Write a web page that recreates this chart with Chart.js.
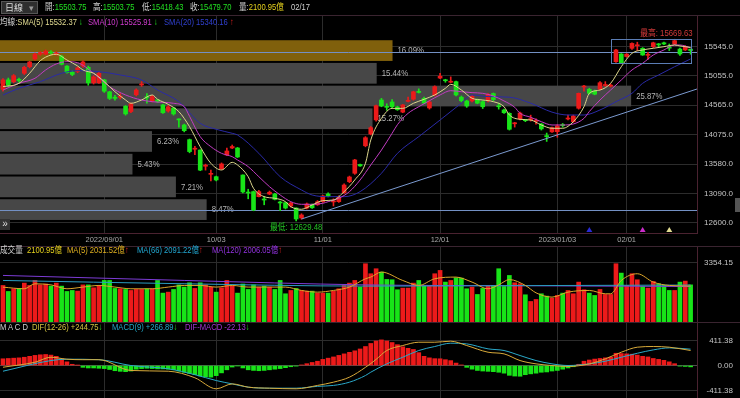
<!DOCTYPE html>
<html>
<head>
<meta charset="utf-8">
<script src="https://cdn.jsdelivr.net/npm/chart.js@4.4.1/dist/chart.umd.min.js"></script>
<style>
    html, body { margin: 0; padding: 0; background: #000; }
    #wrap { position: relative; width: 740px; height: 398px; overflow: hidden; background: #000;
            font-family: "Liberation Sans", "Noto Sans CJK TC", sans-serif; }
    canvas { position: absolute; left: 0; }
    .t { position: absolute; white-space: nowrap; font-size: 9.5px; line-height: 12px;
         transform: scaleX(0.8); transform-origin: 0 50%; color: #d0d0d0; }
    .sep { position: absolute; left: 0; width: 740px; height: 1px; background: #3a2430; }
    .g { color: #22e022; } .r { color: #e82020; } .y { color: #e6d21e; }
    #dd { position: absolute; left: 1px; top: 1px; width: 35px; height: 11px; background: #2e2e2e;
          border: 1px solid #555; color: #ddd; font: 9px "Noto Sans CJK TC", sans-serif; line-height: 11px; }
    #dd span { position: absolute; }
    #more { position: absolute; left: 0; top: 219px; width: 10px; height: 11px; background: #333;
            color: #ddd; font: 10px "Liberation Sans", sans-serif; line-height: 10px; text-align: center; }
    #scroll { position: absolute; left: 735px; top: 198px; width: 5px; height: 14px; background: #555; }
</style>
</head>
<body>
<div id="wrap">
    <canvas id="priceChart" width="740" height="231" style="top:15px"></canvas>
    <canvas id="volumeChart" width="740" height="76" style="top:246px"></canvas>
    <canvas id="macdChart" width="740" height="76" style="top:322px"></canvas>

    <div class="sep" style="top:15px"></div>
    <div class="sep" style="top:246px"></div>
    <div class="sep" style="top:322px"></div>

    <div id="dd"><span style="left:3px">日線</span><span style="left:27px;color:#999">▾</span></div>
    <div class="t" style="left:45px;top:1px">開:<span class="g">15503.75</span></div>
    <div class="t" style="left:93px;top:1px">高:<span class="g">15503.75</span></div>
    <div class="t" style="left:142px;top:1px">低:<span class="g">15418.43</span></div>
    <div class="t" style="left:190px;top:1px">收:<span class="g">15479.70</span></div>
    <div class="t" style="left:239px;top:1px">量:<span class="y">2100.95億</span></div>
    <div class="t" style="left:291px;top:1px">02/17</div>

    <div class="t" style="left:0;top:16px">均線:<span style="color:#e2dc92">SMA(5) 15532.37</span> <span class="g">↓</span></div>
    <div class="t" style="left:88px;top:16px"><span style="color:#d23cd2">SMA(10) 15525.91</span> <span class="g">↓</span></div>
    <div class="t" style="left:164px;top:16px"><span style="color:#3040d0">SMA(20) 15340.16</span> <span class="r">↑</span></div>

    <div class="t" style="left:0;top:244px">成交量</div>
    <div class="t" style="left:27px;top:244px"><span class="y">2100.95億</span></div>
    <div class="t" style="left:67px;top:244px"><span style="color:#e0b020">MA(5) 2031.52億</span><span class="r">↑</span></div>
    <div class="t" style="left:137px;top:244px"><span style="color:#22a8d2">MA(66) 2091.22億</span><span class="r">↑</span></div>
    <div class="t" style="left:212px;top:244px"><span style="color:#9432e2">MA(120) 2006.05億</span><span class="r">↑</span></div>

    <div class="t" style="left:0;top:321px">M A C D</div>
    <div class="t" style="left:32px;top:321px"><span style="color:#d4c442">DIF(12-26) +244.75</span><span class="g">↓</span></div>
    <div class="t" style="left:112px;top:321px"><span style="color:#22a8c8">MACD(9) +266.89</span><span class="g">↓</span></div>
    <div class="t" style="left:185px;top:321px"><span style="color:#a434d4">DIF-MACD -22.13</span><span class="g">↓</span></div>

    <div id="more">»</div>
    <div id="scroll"></div>
</div>

<script>
// ═══ 資料 (2022/08/05 ~ 2023/02/17 日線) ═══

// [開, 高, 低, 收]
const candles = [
    [14830,15010,14800,14990],[14990,15020,14880,14900],[14960,15080,14940,15060],[15000,15020,14950,14980],[15100,15220,15080,15200],
    [15210,15300,15190,15290],[15340,15440,15320,15420],[15420,15460,15400,15445],[15420,15490,15410,15470],[15450,15480,15420,15440],
    [15420,15460,15400,15440],[15380,15400,15240,15250],[15220,15230,15100,15110],[15120,15140,15060,15080],[15130,15210,15110,15190],
    [15220,15310,15200,15290],[15200,15220,14900,14940],[14940,15060,14920,15040],[14940,15120,14930,15100],[14990,15000,14780,14800],
    [14790,14800,14660,14680],[14700,14730,14650,14680],[14700,14760,14670,14715],[14550,14560,14400,14420],[14460,14600,14440,14590],
    [14740,14840,14720,14820],[14905,14960,14880,14920],[14705,14760,14600,14690],[14640,14730,14620,14710],[14655,14660,14610,14630],
    [14570,14580,14430,14440],[14470,14560,14450,14540],[14520,14530,14400,14420],[14335,14340,14200,14320],[14235,14250,14120,14140],
    [13990,14000,13770,13790],[13830,13880,13740,13845],[13816,13820,13470,13480],[13545,13580,13480,13560],[13410,13480,13300,13425],
    [13370,13380,13300,13315],[13500,13600,13490,13583],[13733,13850,13720,13800],[13850,13900,13840,13875],[13850,13860,13690,13700],
    [13398,13400,13100,13114],[13105,13160,13000,13096],[13120,13130,12800,12813],[13036,13140,13030,13120],[12990,13040,12900,12980],
    [13080,13130,13070,13110],[13080,13090,12980,12990],[12940,12960,12800,12930],[12935,12940,12830,12846],[12880,12940,12860,12930],
    [12846,12850,12629.48,12663],[12680,12750,12660,12730],[12846,12930,12830,12913],[12900,12910,12840,12850],[12900,12970,12890,12950],
    [12952,13060,12940,13048],[13080,13100,13030,13048],[12948,13000,12880,12955],[12952,13050,12940,13030],[13102,13250,13090,13231],
    [13287,13380,13270,13365],[13427,13660,13410,13650],[13575,13580,13540,13550],[13888,14040,13870,14022],[14085,14210,14070,14190],
    [14320,14570,14300,14558],[14653,14680,14540,14553],[14545,14590,14480,14530],[14620,14660,14520,14540],[14540,14550,14480,14490],
    [14450,14580,14440,14570],[14630,14700,14620,14645],[14667,14800,14650,14790],[14790,14840,14770,14780],[14680,14700,14590,14600],
    [14520,14640,14500,14620],[14737,14890,14720,14876],[15020,15100,15010,15050],[14990,15000,14950,14975],[14950,15040,14940,14960],
    [14960,14970,14720,14737],[14700,14720,14620,14640],[14637,14650,14530,14553],[14637,14730,14620,14715],[14660,14670,14590,14600],
    [14625,14640,14510,14540],[14640,14760,14620,14748],[14760,14770,14640,14660],[14545,14600,14500,14540],[14486,14500,14430,14440],
    [14430,14440,14150,14163],[14255,14280,14200,14265],[14335,14450,14320,14435],[14320,14330,14290,14307],[14325,14400,14300,14335],
    [14295,14340,14250,14305],[14252,14260,14150,14170],[14050,14100,13960,14040],[14120,14200,14110,14190],[14123,14240,14030,14218],
    [14230,14260,14200,14225],[14335,14400,14320,14345],[14290,14400,14280,14385],[14515,14770,14500,14765],[14870,14900,14800,14880],
    [14832,14850,14750,14765],[14800,14820,14740,14750],[14832,14960,14820,14942],[14895,14960,14880,14905],[14885,14920,14870,14895],
    [15294,15500,15280,15490],[15423,15430,15270,15277],[15380,15430,15370,15420],[15518,15610,15500,15600],[15560,15620,15480,15570],
    [15518,15530,15400,15406],[15400,15450,15330,15410],[15545,15620,15530,15610],[15585,15600,15540,15575],[15610,15620,15580,15590],
    [15530,15590,15480,15520],[15590,15669.63,15580,15645],[15505,15520,15400,15423],[15490,15560,15480,15550],[15503.75,15503.75,15418.43,15479.70]
];

// 成交量 (億)
const volumes = [
    2068,1728,1880,1900,2200,2068,2351,2100,2150,2030,
    2200,2030,1728,1785,1747,2100,2100,1936,2068,2351,
    2351,1900,1880,1842,1785,1842,1842,1880,1880,2351,
    1634,1690,1842,2100,1975,2219,1900,2219,2100,1975,
    1690,1936,2351,2030,1634,2150,1842,2100,1975,2030,
    1975,1842,2351,1597,1785,1900,1785,1747,1747,1634,
    1634,1634,1747,1880,2068,2200,2351,1975,3297,2731,
    3014,2825,2408,2390,1824,1918,1918,2200,2351,2068,
    2068,2731,2918,2257,2351,2502,2483,1880,1975,1558,
    1900,2068,2068,3014,2012,2634,2219,2163,1540,1162,
    1275,1597,1464,1351,1502,1634,1785,1597,2257,1824,
    1634,1502,1842,1558,1558,3297,2767,2068,2731,2390,
    2012,1918,2295,2163,2068,1785,1785,2257,2314,2100.95
];

// DIF-MACD 柱狀
const macdHist = [
    110,115,120,125,135,150,165,175,180,170,
    150,110,60,20,5,-30,-40,-40,-45,-50,
    -65,-85,-95,-100,-90,-60,-50,-45,-50,-55,
    -55,-60,-70,-90,-110,-130,-150,-170,-185,-190,
    -165,-120,-70,-25,-5,-40,-70,-80,-85,-80,
    -70,-60,-50,-35,-20,-10,10,30,50,70,
    100,120,140,165,190,215,240,270,310,360,
    400,418,400,375,340,305,280,262,210,150,
    125,112,110,95,80,40,10,-30,-60,-80,
    -90,-95,-100,-110,-125,-160,-172,-175,-150,-136,
    -125,-110,-105,-90,-80,-60,-40,-20,20,70,
    90,105,115,125,135,200,195,190,185,170,
    150,140,115,100,85,60,30,-10,-15,-22.13
];

// 均線 [K棒序號, 值]
const sma5 = [[0,14876],[3,14932],[5,15100],[7,15311],[9,15406],[10,15418],[12,15322],[14,15222],[15,15155],[17,15100],
    [19,14960],[21,14792],[23,14653],[24,14598],[26,14653],[28,14737],[29,14665],[31,14580],[33,14458],[35,14207],
    [37,13872],[39,13594],[41,13482],[43,13610],[44,13566],[46,13370],[47,13176],[49,13036],[51,13009],[53,12952],
    [54,12868],[56,12825],[58,12897],[60,12969],[62,12980],[64,13120],[66,13316],[68,13594],[69,13984],[71,14346],
    [73,14513],[75,14513],[77,14598],[79,14665],[81,14737],[83,14849],[84,14915],[86,14820],[88,14682],[90,14653],
    [92,14625],[94,14541],[95,14402],[97,14330],[99,14318],[101,14235],[103,14180],[105,14180],[107,14290],[109,14541],
    [110,14765],[112,14820],[114,14932],[116,15210],[118,15434],[120,15490],[122,15518],[124,15545],[126,15573],[127,15557],
    [129,15532.37]];
const sma10 = [[0,14820],[3,14932],[6,15016],[8,15155],[10,15256],[12,15294],[14,15277],[17,15100],[20,14876],[23,14737],
    [26,14653],[28,14625],[32,14598],[34,14541],[35,14380],[37,14040],[39,13872],[41,13761],[43,13705],[44,13650],
    [46,13538],[48,13370],[50,13203],[52,13064],[54,12952],[56,12908],[58,12908],[60,12925],[61,12952],[63,13009],
    [65,13120],[67,13315],[69,13566],[71,13816],[73,14096],[74,14240],[76,14430],[78,14541],[80,14641],[82,14737],
    [84,14809],[86,14792],[88,14776],[90,14765],[92,14720],[94,14637],[96,14531],[97,14430],[99,14364],[101,14290],
    [103,14235],[105,14235],[107,14252],[109,14346],[110,14460],[112,14653],[114,14820],[116,14988],[118,15155],[120,15267],
    [122,15406],[124,15490],[126,15573],[127,15573],[129,15525.91]];
const sma20 = [[0,14737],[3,14849],[7,14960],[11,15100],[14,15144],[18,15127],[22,15072],[26,14988],[29,14820],[33,14625],
    [37,14263],[40,14163],[43,14096],[44,14068],[48,13761],[52,13370],[56,13148],[58,13064],[61,13036],[64,13036],
    [67,13120],[71,13427],[74,13761],[78,14040],[82,14318],[86,14600],[88,14737],[91,14710],[95,14700],[99,14600],
    [103,14450],[106,14402],[109,14402],[112,14486],[115,14625],[118,14765],[120,14932],[123,15072],[126,15210],[129,15340.16]];

const volMa5 = [[0,1972],[4,1880],[6,2160],[9,2100],[12,1880],[15,1975],[18,2068],[21,1975],[24,1880],[28,1880],
    [31,1975],[34,2068],[37,2068],[40,1975],[43,2068],[46,1975],[49,1975],[53,1975],[56,1785],[59,1690],
    [62,1785],[65,1975],[68,2446],[69,2540],[71,2825],[75,2350],[78,2068],[81,2446],[85,2540],[88,2257],
    [91,1880],[93,2100],[95,2400],[98,2068],[100,1650],[103,1408],[106,1690],[110,1785],[113,1597],[114,1597],
    [116,2351],[119,2730],[122,2257],[125,2068],[129,2031.52]];
const volMa66  = [[0,2351],[34,2164],[68,2030],[100,2060],[129,2091.22]];
const volMa120 = [[0,2635],[34,2351],[68,2100],[100,2050],[129,2006.05]];

const difLine = [[0,-28],[6,54],[9,135],[12,103],[15,95],[18,95],[24,-81],[31,-93],[36,-200],[40,-380],
    [43,-300],[46,-353],[50,-370],[55,-380],[59,-325],[62,-272],[65,-190],[68,-30],[70,100],[72,245],
    [75,326],[78,380],[81,380],[84,397],[87,326],[91,217],[94,190],[97,81],[100,27],[103,0],
    [106,-16],[110,27],[113,109],[116,217],[119,299],[122,310],[125,299],[129,244.75]];
const signalLine = [[0,-93],[9,81],[12,103],[18,95],[24,0],[31,-54],[36,-150],[40,-245],[43,-300],[46,-353],
    [50,-370],[55,-370],[59,-340],[62,-325],[65,-272],[68,-163],[69,-109],[72,27],[75,135],[78,245],
    [81,310],[84,364],[87,353],[91,272],[94,245],[97,163],[100,81],[103,27],[106,0],[110,27],
    [113,70],[116,135],[119,200],[122,255],[125,288],[129,266.89]];

// 座標軸
const tickIdx  = [19, 40, 60, 82, 104, 117];
const tickText = ['2022/09/01', '10/03', '11/01', '12/01', '2023/01/03', '02/01'];
const priceTicks = [12600, 13090, 13580, 14075, 14565, 15055, 15545];
const volTicks   = [3354.15];
const macdTicks  = [-411.38, 0, 411.38];

// 分價量 (由下往上, %)
const profilePct = [8.47, 7.21, 5.43, 6.23, 15.27, 25.87, 15.44, 16.09];
const hLines     = [12810, 15450];
const trendLine  = [[56, 12662], [130.2, 14837]];
const boxRange   = [114, 129];
const crossIdx   = [110, 120, 125];

// ═══ 樣式 ═══
const RED = '#ec1a1a', GREEN = '#18e418';
const FONT = '"Liberation Sans", "Noto Sans CJK TC", sans-serif';
const GRID = '#2c2c2c', EDGE = '#4a2230';
const X_MIN = -0.56, X_MAX = 130.2;

const candleColors = candles.map(c => c[3] >= c[0] ? RED : GREEN);
const pts = arr => arr.map(([x, y]) => ({ x, y }));

function lineSet(data, color, order) {
    return { type: 'line', data: pts(data), borderColor: color, borderWidth: 1, pointRadius: 0,
             cubicInterpolationMode: 'monotone', order: order ?? 0 };
}

function xAxis(showLabels) {
    return {
        type: 'linear', min: X_MIN, max: X_MAX, offset: false,
        afterBuildTicks: s => { s.ticks = tickIdx.map(v => ({ value: v })); },
        afterFit: s => { s.height = showLabels ? 13 : 0; s.paddingLeft = 0; s.paddingRight = 0; },
        grid: { color: GRID, drawTicks: false, offset: false },
        border: { display: showLabels, color: EDGE },
        ticks: {
            display: showLabels, autoSkip: false, maxRotation: 0, padding: 2, color: '#a8a8a8',
            font: { size: 7.5, family: FONT },
            callback: v => tickText[tickIdx.indexOf(v)] ?? ''
        }
    };
}

function yAxis(min, max, ticks, digits) {
    return {
        position: 'right', min, max,
        afterBuildTicks: s => { s.ticks = ticks.map(v => ({ value: v })); },
        afterFit: s => { s.width = 36; s.paddingTop = 0; s.paddingBottom = 0; },
        grid: { color: c => (c.tick && c.tick.value === 0) ? '#4e4e4e' : GRID, drawTicks: false },
        border: { color: EDGE },
        ticks: { crossAlign: 'far', padding: 4, color: '#c4c4c4', font: { size: 8, family: FONT },
                 callback: v => Number(v).toFixed(digits) }
    };
}

const baseOptions = {
    responsive: false, animation: false, events: [],
    layout: { padding: { left: 0, top: 0, bottom: 0, right: 7 } },
    plugins: { legend: { display: false }, tooltip: { enabled: false } }
};

function drawText(ctx, s, px, py, color, align) {
    ctx.save();
    ctx.translate(px, py);
    ctx.scale(0.82, 1);
    ctx.font = '9.5px ' + FONT;
    ctx.fillStyle = color;
    ctx.textAlign = align;
    ctx.textBaseline = 'middle';
    ctx.fillText(s, 0, 0);
    ctx.restore();
}

// 分價量、水平線、區間框、最高最低
const priceExtras = {
    id: 'priceExtras',
    beforeDatasetsDraw(chart) {
        const { ctx, chartArea: a, scales: { x2, y } } = chart;
        const lo = Math.min(...candles.map(c => c[2]));
        const hi = Math.max(...candles.map(c => c[1]));
        const step = (hi - lo) / profilePct.length;
        const last = candles[candles.length - 1][3];

        ctx.save();
        ctx.beginPath();
        ctx.rect(a.left, a.top, a.right - a.left, a.bottom - a.top);
        ctx.clip();
        profilePct.forEach((p, k) => {
            const p0 = lo + step * k, p1 = p0 + step;
            const top = y.getPixelForValue(p1), bot = y.getPixelForValue(p0);
            const right = x2.getPixelForValue(p);
            ctx.fillStyle = (last >= p0 && last <= p1) ? '#80600c' : '#474747';
            ctx.fillRect(a.left, top + 1, right - a.left, bot - top - 2);
            drawText(ctx, p.toFixed(2) + '%', right + 5, (top + bot) / 2, '#b4b4b4', 'left');
        });
        ctx.strokeStyle = '#7390c4';
        ctx.lineWidth = 1;
        hLines.forEach(v => {
            const py = Math.round(y.getPixelForValue(v)) + 0.5;
            ctx.beginPath(); ctx.moveTo(a.left, py); ctx.lineTo(a.right, py); ctx.stroke();
        });
        ctx.restore();
    },
    afterDatasetsDraw(chart) {
        const { ctx, chartArea: a, scales: { x, y } } = chart;
        ctx.save();

        const seg = candles.slice(boxRange[0] + 1, boxRange[1] + 1);
        const bHi = Math.max(...seg.map(c => c[1])), bLo = Math.min(...seg.map(c => c[2]));
        const bx0 = Math.round(x.getPixelForValue(boxRange[0])) + 0.5;
        const bx1 = Math.round(x.getPixelForValue(boxRange[1])) + 0.5;
        const by0 = Math.round(y.getPixelForValue(bHi)) + 0.5;
        const by1 = Math.round(y.getPixelForValue(bLo)) + 0.5;
        ctx.strokeStyle = '#5b7db5';
        ctx.lineWidth = 1;
        ctx.strokeRect(bx0, by0, bx1 - bx0, by1 - by0);

        let hiI = 0, loI = 0;
        candles.forEach((c, i) => {
            if (c[1] > candles[hiI][1]) hiI = i;
            if (c[2] < candles[loI][2]) loI = i;
        });
        drawText(ctx, '最高: ' + candles[hiI][1].toFixed(2), x.getPixelForValue(boxRange[1]) + 2,
                 y.getPixelForValue(candles[hiI][1]) - 6, '#d23a3a', 'right');
        drawText(ctx, '最低: ' + candles[loI][2].toFixed(2), x.getPixelForValue(loI),
                 y.getPixelForValue(candles[loI][2]) + 6, '#22c022', 'center');

        const triColors = ['#2a2ad6', '#cc2ccc', '#e2dc92'];
        crossIdx.forEach((i, k) => {
            const px = x.getPixelForValue(i), py = a.bottom - 3;
            ctx.fillStyle = triColors[k];
            ctx.beginPath();
            ctx.moveTo(px, py - 3); ctx.lineTo(px + 3, py + 2); ctx.lineTo(px - 3, py + 2);
            ctx.closePath(); ctx.fill();
        });
        ctx.restore();
    }
};

// ═══ K線圖 ═══
new Chart(document.getElementById('priceChart'), {
    type: 'bar',
    data: {
        datasets: [
            lineSet(sma5, '#dcd68c'),
            lineSet(sma10, '#c23cc2'),
            lineSet(sma20, '#2a2aa6'),
            { type: 'line', data: pts(trendLine), borderColor: '#7b9ad0', borderWidth: 1, pointRadius: 0, order: 1 },
            { data: candles.map((c, i) => ({ x: i, y: [c[2], c[1]] })), backgroundColor: candleColors,
              barThickness: 1, grouped: false, order: 3 },
            { data: candles.map((c, i) => ({ x: i, y: [c[0], c[3]] })), backgroundColor: candleColors,
              barThickness: 4, minBarLength: 1, grouped: false, order: 2 }
        ]
    },
    options: {
        ...baseOptions,
        scales: {
            x: xAxis(true),
            x2: {
                type: 'linear', position: 'top', min: 0, max: 28.57, offset: false,
                afterFit: s => { s.height = 0; s.paddingLeft = 0; s.paddingRight = 0; },
                grid: { display: false, offset: false }, border: { display: false }, ticks: { display: false }
            },
            y: yAxis(12428, 16075, priceTicks, 1)
        }
    },
    plugins: [priceExtras]
});

// ═══ 成交量 ═══
new Chart(document.getElementById('volumeChart'), {
    type: 'bar',
    data: {
        datasets: [
            lineSet(volMa5, '#dca52a'),
            lineSet(volMa66, '#2a9cc0'),
            lineSet(volMa120, '#7d3cd6'),
            { data: volumes.map((v, i) => ({ x: i, y: v })), backgroundColor: candleColors,
              barThickness: 4, grouped: false, order: 2 }
        ]
    },
    options: {
        ...baseOptions,
        scales: { x: xAxis(false), y: yAxis(0, 4300, volTicks, 2) }
    }
});

// ═══ MACD ═══
new Chart(document.getElementById('macdChart'), {
    type: 'bar',
    data: {
        datasets: [
            lineSet(difLine, '#d8aa3a'),
            lineSet(signalLine, '#2aa8c8'),
            { data: macdHist.map((v, i) => ({ x: i, y: v })),
              backgroundColor: macdHist.map(v => v >= 0 ? RED : GREEN),
              barThickness: 4, grouped: false, order: 2 }
        ]
    },
    options: {
        ...baseOptions,
        scales: { x: xAxis(false), y: yAxis(-530, 710, macdTicks, 2) }
    }
});
</script>
</body>
</html>
